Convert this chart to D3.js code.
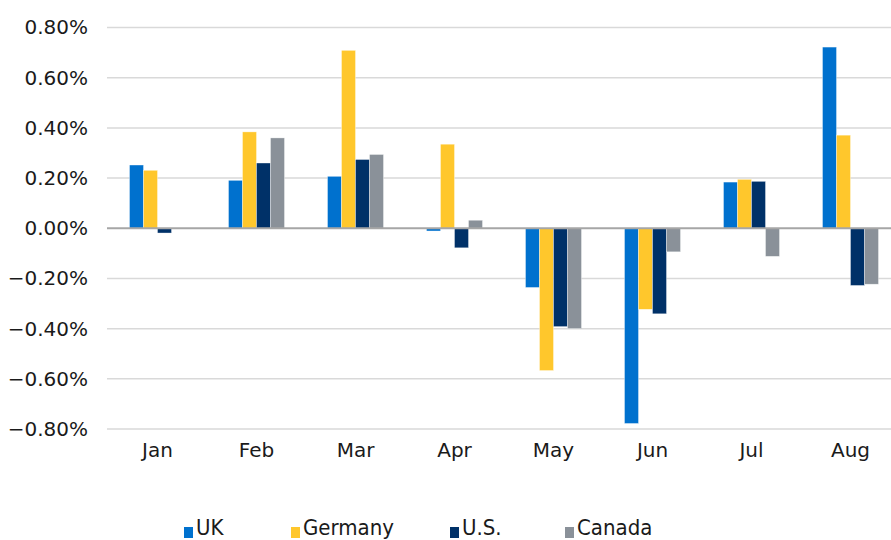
<!DOCTYPE html>
<html>
<head>
<meta charset="utf-8">
<script src="https://cdn.jsdelivr.net/npm/d3@7"></script>
<style>
  body { margin: 0; background: #fff; }
  svg { display: block; font-family: "DejaVu Sans", sans-serif; }
</style>
</head>
<body>
<div id="chart"></div>
<script>
const width = 891;
const height = 540;

// dati (valori in %)
const months = ["Jan", "Feb", "Mar", "Apr", "May", "Jun", "Jul", "Aug"];
const seriesNames = ["UK", "Germany", "U.S.", "Canada"];
const ukValues      = [0.252, 0.191, 0.207, -0.011, -0.236, -0.778, 0.184, 0.722];
const germanyValues = [0.231, 0.384, 0.709, 0.335, -0.567, -0.323, 0.195, 0.371];
const usValues      = [-0.019, 0.260, 0.274, -0.078, -0.392, -0.341, 0.187, -0.228];
const canadaValues  = [0.000, 0.360, 0.294, 0.032, -0.400, -0.094, -0.112, -0.223];
const yTicks = [0.8, 0.6, 0.4, 0.2, 0, -0.2, -0.4, -0.6, -0.8];
const colors = ["#0071ce", "#ffc72c", "#003168", "#8a9199"];

const allValues = [ukValues, germanyValues, usValues, canadaValues];

// l'area del grafico continua oltre il bordo destro (tagliata)
const margin = { top: 27.5, right: -9, bottom: 111, left: 108 };
const chartWidth = width - margin.left - margin.right;
const chartHeight = height - margin.top - margin.bottom;

const svg = d3.select("#chart")
  .append("svg")
  .attr("width", width)
  .attr("height", height)
  .attr("viewBox", `0 0 ${width} ${height}`);

// scale
const yScale = d3.scaleLinear().domain([-0.8, 0.8]).range([chartHeight, 0]);
const xScale = d3.scaleBand().domain(months).range([0, chartWidth]);
const inner = d3.scaleBand()
  .domain(seriesNames)
  .range([xScale.bandwidth() / 2 - 28, xScale.bandwidth() / 2 + 28]);

const innerChart = svg.append("g")
  .attr("transform", `translate(${margin.left},${margin.top})`);

// griglia
innerChart.append("g")
  .selectAll("line")
  .data(yTicks.filter(d => d !== 0))
  .join("line")
  .attr("x1", -1)
  .attr("x2", chartWidth)
  .attr("y1", d => yScale(d))
  .attr("y2", d => yScale(d))
  .attr("stroke", "#d9d9d9")
  .attr("stroke-width", 1.5);

// etichette asse y
const yAxis = innerChart.append("g")
  .call(d3.axisLeft(yScale).tickValues(yTicks).tickFormat(d => d3.format(".2f")(d) + "%").tickSize(0).tickPadding(20));
yAxis.select(".domain").remove();
yAxis.selectAll("text")
  .attr("fill", "#1a1a1a")
  .style("font-size", "20px")
  .style("font-family", "'DejaVu Sans', sans-serif");

// barre
const rows = [];
months.forEach((m, i) => {
  seriesNames.forEach((s, j) => {
    rows.push({ month: m, series: s, value: allValues[j][i], color: colors[j] });
  });
});

innerChart.append("g")
  .selectAll("rect")
  .data(rows.filter(d => d.value !== 0))
  .join("rect")
  .attr("x", d => xScale(d.month) + inner(d.series))
  .attr("width", inner.bandwidth())
  .attr("y", d => yScale(Math.max(0, d.value)))
  .attr("height", d => Math.abs(yScale(d.value) - yScale(0)))
  .attr("fill", d => d.color)
  .attr("stroke", "#ffffff")
  .attr("stroke-opacity", 0.6)
  .attr("stroke-width", 0.6);

// linea zero
innerChart.append("line")
  .attr("x1", -1)
  .attr("x2", chartWidth)
  .attr("y1", yScale(0))
  .attr("y2", yScale(0))
  .attr("stroke", "#a6a6a6")
  .attr("stroke-width", 2);

// asse x
const xAxis = innerChart.append("g")
  .attr("transform", `translate(0,${chartHeight})`)
  .call(d3.axisBottom(xScale).tickSize(0).tickPadding(14));
xAxis.select(".domain").remove();
xAxis.selectAll("text")
  .attr("fill", "#1a1a1a")
  .style("font-size", "20px")
  .style("font-family", "'DejaVu Sans', sans-serif");

// legenda
const legendX = [184, 291, 450, 565];
const legend = svg.append("g")
  .selectAll("g")
  .data(seriesNames)
  .join("g")
  .attr("transform", (d, i) => `translate(${legendX[i]}, 527)`);

legend.append("rect")
  .attr("width", 9)
  .attr("height", 11)
  .attr("fill", (d, i) => colors[i]);

legend.append("text")
  .text(d => d)
  .attr("x", 12)
  .attr("y", 8)
  .attr("fill", "#1a1a1a")
  .style("font-family", "'DejaVu Sans', sans-serif")
  .style("font-stretch", "condensed")
  .style("font-size", "22px");
</script>
</body>
</html>
